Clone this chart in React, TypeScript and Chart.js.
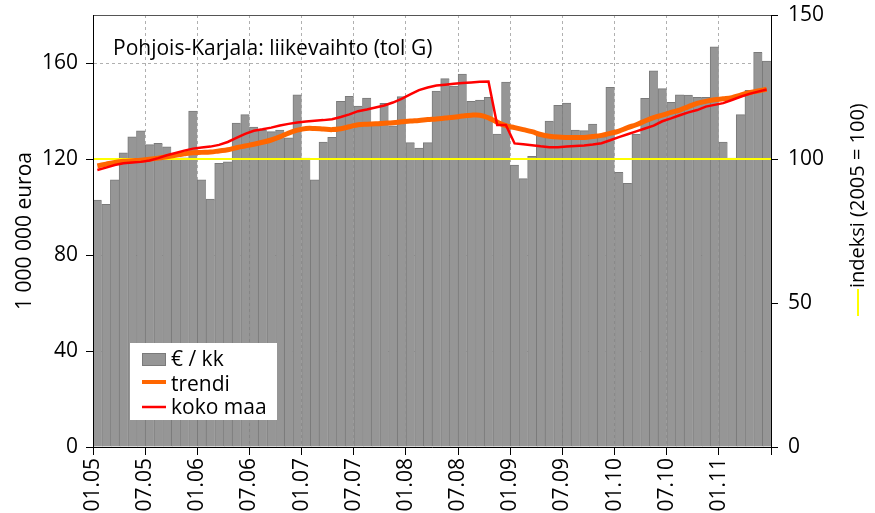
import { useEffect, useRef } from 'react';
import { Chart, registerables } from 'chart.js';

Chart.register(...registerables);

const FONT = "'Open Sans', sans-serif";

const chartTitle = 'Pohjois-Karjala: liikevaihto (tol G)';
const leftAxisTitle = '1 000 000 euroa';
const rightAxisTitle = 'indeksi (2005 = 100)';
const legendLabels = ['€ / kk', 'trendi', 'koko maa'];

const xTickLabels = ['01.05', '07.05', '01.06', '07.06', '01.07', '07.07', '01.08', '07.08', '01.09', '07.09', '01.10', '07.10', '01.11'];

// € / kk, monthly 01.2005 - 06.2011 (million euros)
const barValues = [
  102.9, 101.1, 111.3, 122.6, 129.2, 131.7, 126, 126.5, 125.1, 120.3,
  120.5, 140, 111.3, 103.3, 118.2, 118.8, 135, 138.5, 133.3, 132.1,
  131.4, 132, 128.8, 146.7, 120.4, 111.3, 127.1, 129, 144, 146.1,
  142, 145.4, 134, 143.2, 133.8, 146, 126.8, 124.6, 126.8, 148.3,
  153.5, 150.4, 155.4, 144, 144.6, 145.7, 130.4, 152.1, 117.5, 111.8,
  121.1, 130.7, 135.8, 142.4, 143.3, 132.1, 131.8, 134.6, 129.3, 149.9,
  114.4, 109.9, 130.4, 145.3, 156.7, 149.3, 143.6, 146.7, 146.6, 145.7,
  145.7, 166.7, 127.1, 120.4, 138.5, 148.6, 164.4, 160.8,
];

// trendi (index 2005 = 100)
const trendValues = [
  97.6, 98.2, 98.8, 99.2, 99.4, 99.6, 99.9, 100.3, 100.8, 101.3,
  101.8, 102.2, 102.3, 102.4, 102.8, 103.2, 103.9, 104.5, 105.1, 105.8,
  106.6, 107.7, 109, 110, 110.6, 110.6, 110.4, 110.2, 110.5, 111.2,
  111.9, 112.1, 112.2, 112.4, 112.6, 112.9, 113.2, 113.4, 113.7, 113.9,
  114.2, 114.5, 114.9, 115.2, 115.2, 114.3, 112.8, 111.6, 110.9, 110.2,
  109.5, 108.5, 107.9, 107.6, 107.5, 107.5, 107.5, 107.8, 108.2, 108.9,
  109.7, 110.9, 111.9, 113.2, 114.4, 115.2, 116.2, 117, 118.2, 119.3,
  120, 120.6, 120.9, 121.3, 122.2, 123, 123.6, 124.2,
];

// koko maa (index 2005 = 100)
const kokoMaaValues = [
  96.2, 97, 97.9, 98.5, 98.8, 99, 99.5, 100.3, 101.3, 102.1,
  102.9, 103.6, 104, 104.3, 104.9, 105.9, 107.3, 108.7, 109.8, 110.3,
  110.9, 111.6, 112.2, 112.7, 113, 113.3, 113.5, 113.8, 114.6, 115.5,
  116.6, 117.2, 117.9, 118.6, 119.6, 120.9, 122.4, 123.9, 124.8, 125.5,
  125.8, 126.1, 126.4, 126.6, 126.8, 126.9, 111.8, 111.8, 105.4, 105.1,
  104.8, 104.4, 104.1, 104.1, 104.3, 104.5, 104.7, 105, 105.5, 106.5,
  107.6, 108.6, 109.6, 110.6, 111.6, 113.1, 114.1, 115.2, 116.2, 117,
  118.2, 118.8, 119.4, 120.5, 121.6, 122.6, 123.4, 124.1,
];

// indeksi base line (2005 = 100)
const indexLine = [100, 100];

const MONTHS = barValues.length;

const BAR_FILL = '#969696';
const BAR_EDGE = '#7a7a7a';
const ORANGE = '#ff6600';
const RED = '#ff0000';
const YELLOW = '#ffff00';

const overlayPlugin = {
  id: 'overlay',
  afterDraw(chart: any) {
    const { ctx, chartArea } = chart;
    const L = chartArea.left;
    const B = chartArea.bottom;
    ctx.save();
    ctx.font = `21px ${FONT}`;
    ctx.fillStyle = '#000';
    ctx.textAlign = 'left';
    ctx.textBaseline = 'alphabetic';
    ctx.fillText(chartTitle, L + 20, chartArea.top + 40);

    const bx = L + 37;
    const by = B - 104;
    ctx.fillStyle = '#fff';
    ctx.fillRect(bx, by, 147, 77);
    ctx.fillStyle = BAR_FILL;
    ctx.fillRect(bx + 12, by + 10, 24, 13);
    ctx.strokeStyle = BAR_EDGE;
    ctx.lineWidth = 1;
    ctx.strokeRect(bx + 12.5, by + 10.5, 23, 12);
    ctx.strokeStyle = ORANGE;
    ctx.lineWidth = 4;
    ctx.beginPath();
    ctx.moveTo(bx + 12, by + 39);
    ctx.lineTo(bx + 36, by + 39);
    ctx.stroke();
    ctx.strokeStyle = RED;
    ctx.lineWidth = 2.5;
    ctx.beginPath();
    ctx.moveTo(bx + 12, by + 64);
    ctx.lineTo(bx + 36, by + 64);
    ctx.stroke();
    ctx.fillStyle = '#000';
    ctx.font = `21px ${FONT}`;
    ctx.fillText(legendLabels[0], bx + 41, by + 23);
    ctx.fillText(legendLabels[1], bx + 41, by + 48);
    ctx.fillText(legendLabels[2], bx + 41, by + 71);

    ctx.translate(858, 316);
    ctx.rotate(-Math.PI / 2);
    ctx.strokeStyle = YELLOW;
    ctx.lineWidth = 2;
    ctx.beginPath();
    ctx.moveTo(0, 0);
    ctx.lineTo(27, 0);
    ctx.stroke();
    ctx.fillStyle = '#000';
    ctx.font = `20px ${FONT}`;
    ctx.textBaseline = 'middle';
    ctx.fillText(rightAxisTitle, 28, 0);
    ctx.restore();
  },
};

export default function App() {
  const ref = useRef<HTMLCanvasElement | null>(null);

  useEffect(() => {
    if (!ref.current) return;
    Chart.defaults.font.family = FONT;
    const chart = new Chart(ref.current, {
      type: 'bar',
      data: {
        datasets: [
          {
            type: 'line',
            label: legendLabels[2],
            data: kokoMaaValues.map((v, i) => ({ x: i + 0.5, y: v })),
            borderColor: RED,
            borderWidth: 2.5,
            pointRadius: 0,
            tension: 0,
            yAxisID: 'yR',
            order: 1,
          } as any,
          {
            type: 'line',
            label: legendLabels[1],
            data: trendValues.map((v, i) => ({ x: i + 0.5, y: v })),
            borderColor: ORANGE,
            borderWidth: 5,
            pointRadius: 0,
            tension: 0.4,
            yAxisID: 'yR',
            order: 2,
          } as any,
          {
            type: 'line',
            label: 'indeksi',
            data: indexLine.map((v, i) => ({ x: i * MONTHS, y: v })),
            borderColor: YELLOW,
            borderWidth: 2,
            pointRadius: 0,
            yAxisID: 'yR',
            order: 3,
          } as any,
          {
            type: 'bar',
            label: legendLabels[0],
            data: barValues.map((v, i) => ({ x: i + 0.5, y: v })),
            backgroundColor: BAR_FILL,
            borderColor: BAR_EDGE,
            borderWidth: { left: 1, right: 0, top: 1, bottom: 0 },
            borderSkipped: false,
            barPercentage: 1,
            categoryPercentage: 1,
            yAxisID: 'y',
            order: 4,
          } as any,
        ],
      },
      options: {
        responsive: false,
        animation: false,
        devicePixelRatio: 1,
        events: [],
        layout: { padding: { top: 15, left: 0, right: 0, bottom: 0 } },
        plugins: { legend: { display: false }, tooltip: { enabled: false }, title: { display: false } },
        scales: {
          x: {
            type: 'linear',
            min: 0,
            max: MONTHS,
            offset: false,
            ticks: {
              stepSize: 6,
              autoSkip: false,
              minRotation: 90,
              maxRotation: 90,
              padding: 3,
              color: '#000',
              font: { size: 21 },
              callback: (v: any) => xTickLabels[Math.round(v / 6)] ?? '',
            },
            grid: { offset: false, color: '#b0b0b0', lineWidth: 1, tickColor: '#000', tickLength: 8 },
            border: { color: '#000', width: 1, dash: [3, 3], z: 1 },
            afterFit: (s: any) => { s.height = 66; s.paddingLeft = 0; s.paddingRight = 0; },
          },
          y: {
            type: 'linear',
            position: 'left',
            min: 0,
            max: 180,
            ticks: { stepSize: 40, padding: 8, color: '#000', font: { size: 21 } },
            afterBuildTicks: (s: any) => { s.ticks = s.ticks.filter((t: any) => t.value <= 160); },
            grid: { color: '#b0b0b0', lineWidth: 1, tickColor: '#000', tickLength: 7 },
            border: { color: '#000', width: 1, dash: [3, 3], z: 1 },
            title: { display: true, text: leftAxisTitle, color: '#000', font: { size: 21 }, padding: { top: 12, bottom: 0 } },
            afterFit: (s: any) => { s.width = 93; s.paddingTop = 0; s.paddingBottom = 0; },
          },
          yR: {
            type: 'linear',
            position: 'right',
            min: 0,
            max: 150,
            ticks: { stepSize: 50, padding: 10, color: '#000', font: { size: 21 } },
            grid: {
              drawOnChartArea: true,
              color: (c: any) => (c.tick && c.tick.value === 150 ? '#555' : 'rgba(0,0,0,0)'),
              tickColor: '#000',
              tickLength: 7,
            },
            border: { color: '#000', width: 1, dash: [], z: 1 },
            afterFit: (s: any) => { s.width = 104; s.paddingTop = 0; s.paddingBottom = 0; },
          },
        },
      } as any,
      plugins: [overlayPlugin],
    });
    return () => chart.destroy();
  }, []);

  return (
    <div style={{ position: 'fixed', left: 0, top: 0, width: 875, height: 513, background: '#fff' }}>
      <canvas ref={ref} width={875} height={513} style={{ display: 'block' }} />
    </div>
  );
}
